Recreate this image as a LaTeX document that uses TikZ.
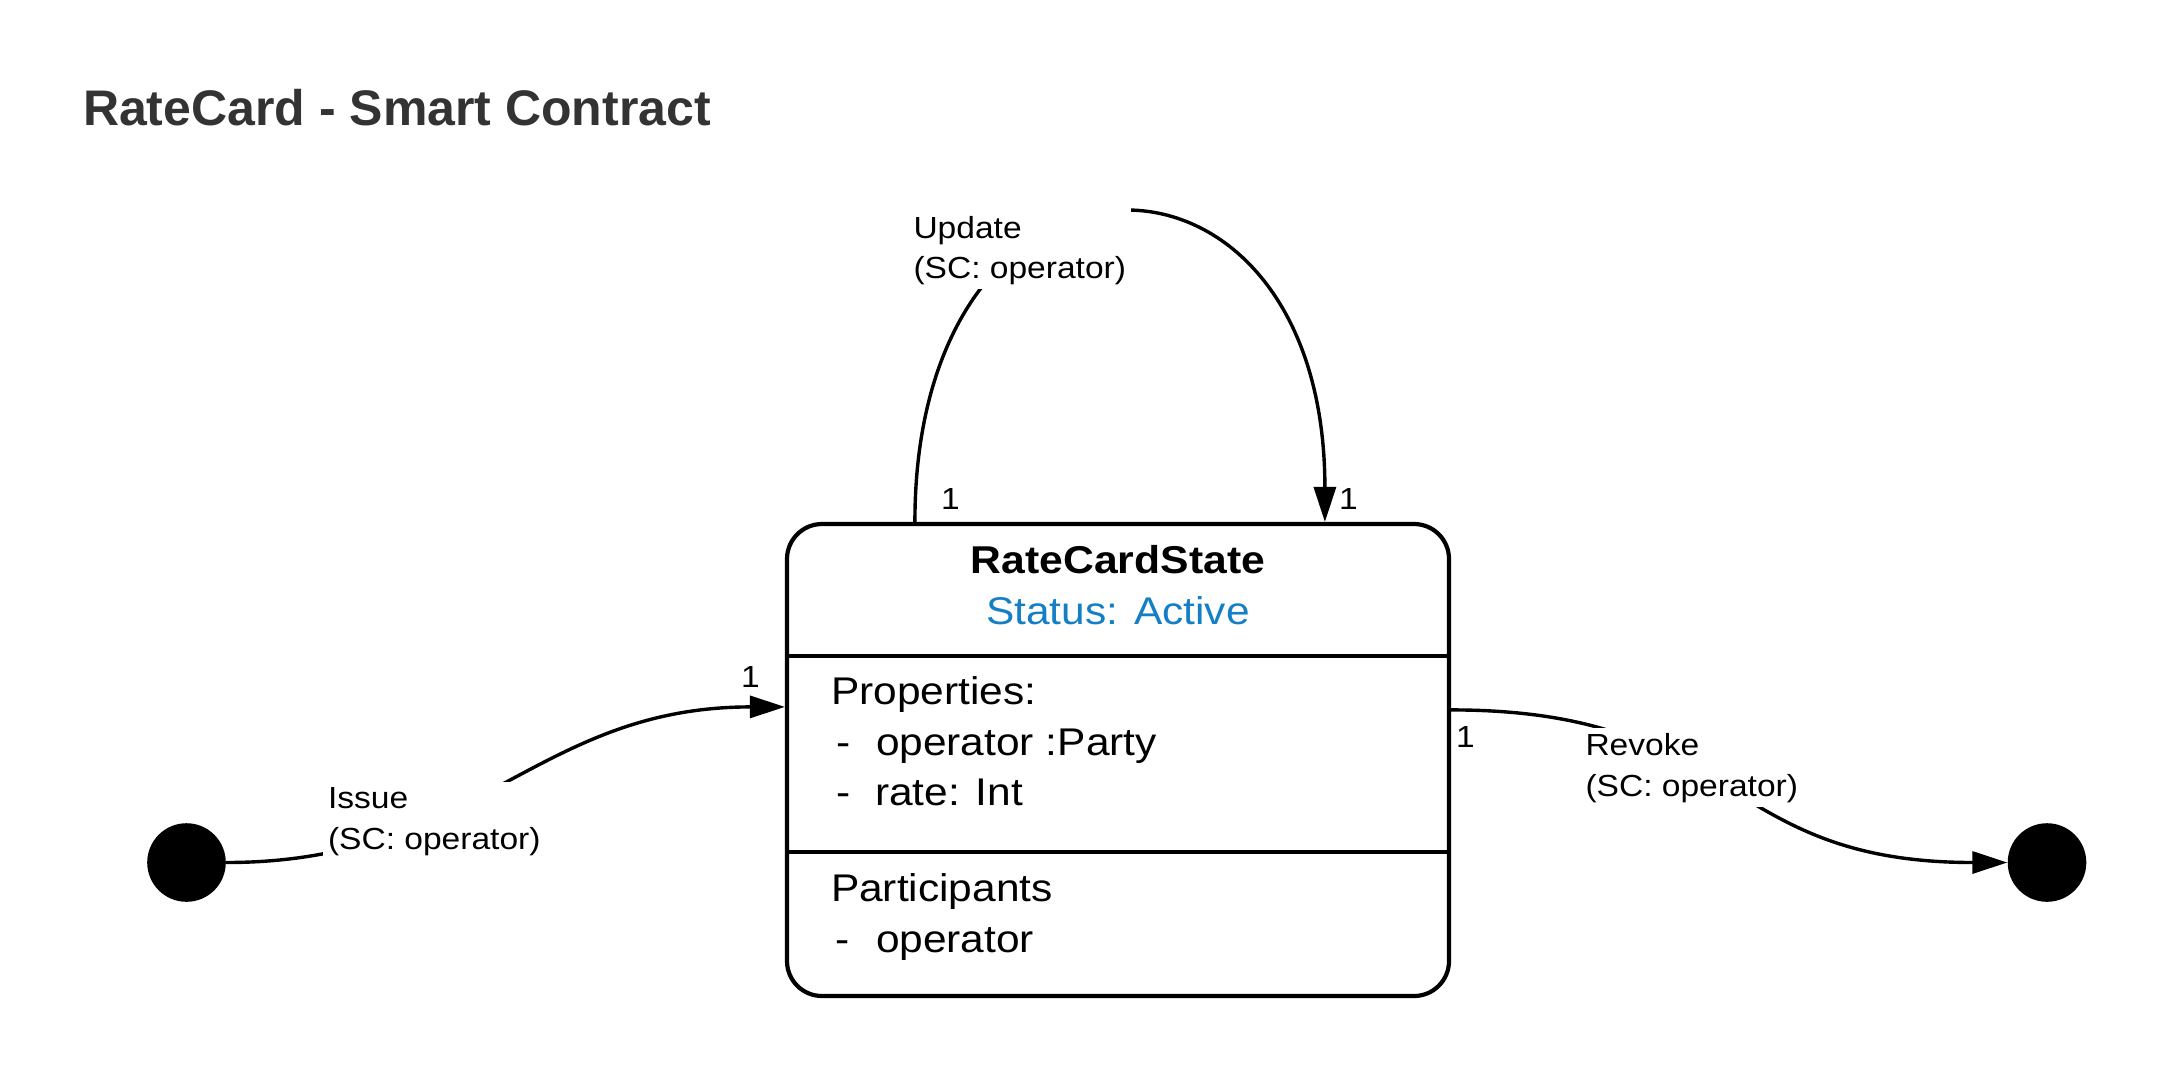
\documentclass[tikz,border=0pt]{standalone}
\usepackage{fontspec}
\setmainfont{Liberation Sans}
\newfontfamily\stretchfont[FakeStretch=1.1]{Liberation Sans}
\usetikzlibrary{arrows.meta,calc}
\definecolor{titlegray}{HTML}{333333}
\definecolor{statusblue}{RGB}{20,127,197}
\pgfdeclarelayer{lines}
\pgfdeclarelayer{masks}
\pgfsetlayers{lines,masks,main}
\begin{document}
\begin{tikzpicture}[x=0.5pt,y=-0.5pt,
  txt/.style={inner sep=0pt, outer sep=0pt, anchor=base west},
  titletxt/.style={txt, font=\fontsize{25pt}{30pt}\selectfont\bfseries, text=titlegray},
  boxtxt/.style={txt, font=\stretchfont\fontsize{19.3pt}{24pt}\selectfont},
  boxhead/.style={txt, anchor=base, font=\stretchfont\bfseries\fontsize{19.4pt}{24pt}\selectfont},
  lbltxt/.style={txt, font=\stretchfont\fontsize{15.25pt}{20pt}\selectfont},
  conn/.style={line width=1.7pt, draw=black},
  tip/.style={-{Triangle[length=17.5pt,width=11pt]}},
  dot/.style={circle, fill=black, draw=none, minimum size=39.3pt, inner sep=0pt},
  statebox/.style={draw=black, line width=2.1pt, rounded corners=17.5pt,
    minimum width=331pt, minimum height=236pt, inner sep=0pt},
  sepline/.style={line width=2.1pt, draw=black},
  labelmask/.style={fill=white}]
\useasboundingbox (0,0) rectangle (2162,1073);

% title
\node[titletxt] (title) at (83,125) {RateCard - Smart Contract};

% state box
\node[statebox] (state) at (1118,760) {};
\coordinate (sepA) at (0,656);
\coordinate (sepB) at (0,852);
\draw[sepline] (state.west |- sepA) -- (state.east |- sepA);
\draw[sepline] (state.west |- sepB) -- (state.east |- sepB);

\node[boxhead] (stname) at (1118,573) {RateCardState};
\node[boxtxt, anchor=base, text=statusblue] (status) at (1118,624) {Status: Active};
\node[boxtxt] (props) at (831,704) {Properties:};
\node[boxtxt] (dashA) at (836,755) {-};
\node[boxtxt] (propA) at (876,755) {operator :Party};
\node[boxtxt] (dashB) at (836,805) {-};
\node[boxtxt] (propB) at (875,805) {rate: Int};
\node[boxtxt] (parts) at (831,901) {Participants};
\node[boxtxt] (dashC) at (835,952) {-};
\node[boxtxt] (partA) at (876,952) {operator};

% pseudo states
\node[dot] (initial) at (186.5,862.5) {};
\node[dot] (final) at (2047,862.5) {};

% connector end points on the box
\coordinate (updS) at ($(state.north west)+(130,0)$);
\coordinate (updE) at ($(state.north west)+(540,0)$);
\coordinate (issE) at ($(state.north west)+(0,185)$);
\coordinate (revS) at ($(state.north east)+(0,188)$);

% connector labels
\node[lbltxt] (updA) at (913.5,238) {Update};
\node[lbltxt] (updB) at (913.5,278) {(SC: operator)};
\node[lbltxt] (issA) at (328,808) {Issue};
\node[lbltxt] (issB) at (328,849) {(SC: operator)};
\node[lbltxt] (revA) at (1585.5,755) {Revoke};
\node[lbltxt] (revB) at (1585.5,796) {(SC: operator)};

% multiplicities
\node[lbltxt] (mUpdS) at (941,509) {1};
\node[lbltxt] (mUpdE) at (1339,509) {1};
\node[lbltxt] (mIss) at (741,687) {1};
\node[lbltxt] (mRev) at (1456,747) {1};

\begin{pgfonlayer}{masks}
\fill[labelmask] ($(updA.north west)+(-5,-10)$) rectangle ($(updB.south east)+(5,5)$);
\fill[labelmask] ($(issA.north west)+(-5,-5)$) rectangle ($(issB.south east)+(5,5)$);
\fill[labelmask] ($(revA.north west)+(-5,-5)$) rectangle ($(revB.south east)+(5,5)$);
\end{pgfonlayer}

\begin{pgfonlayer}{lines}
\draw[conn,tip] (updS) .. controls ($(updS)+(0,-410)$) and ($(updE)+(0,-410)$) .. (updE);
\draw[conn,tip] (initial.east) .. controls ($(initial.east)+(250,0)$) and ($(issE)+(-250,0)$) .. (issE);
\draw[conn,tip] (revS) .. controls ($(revS)+(290,0)$) and ($(final.west)+(-290,0)$) .. (final.west);
\end{pgfonlayer}
\end{tikzpicture}
\end{document}
